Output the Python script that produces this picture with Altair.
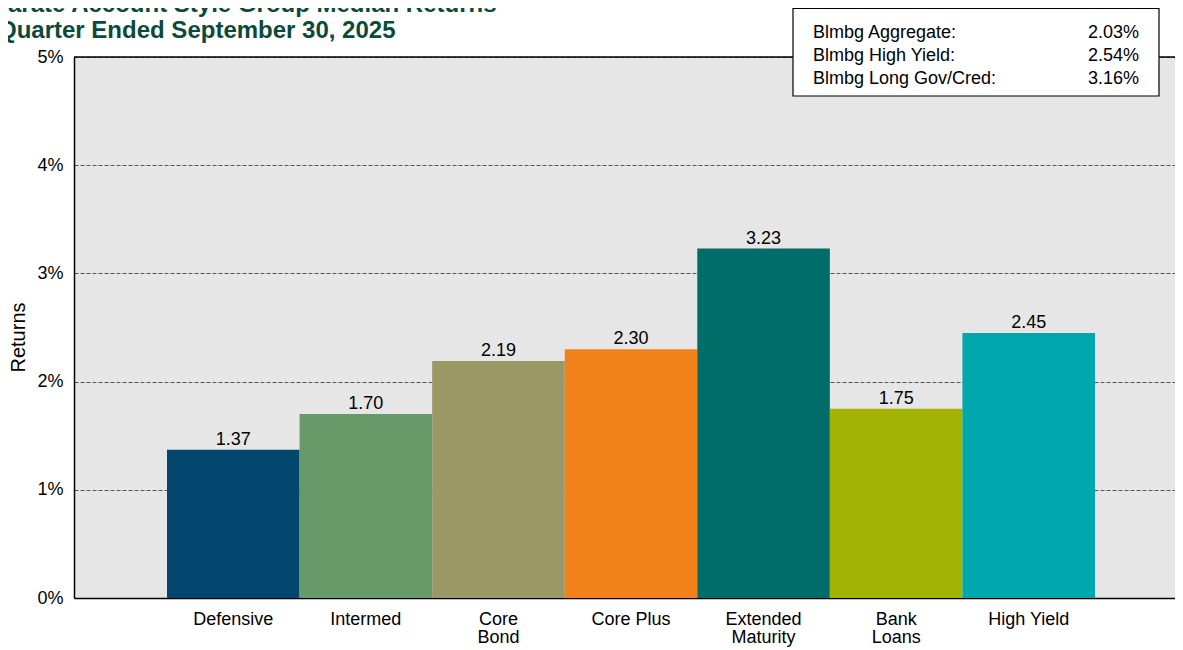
import altair as alt
import pandas as pd

categories = ["Defensive", "Intermed", "Core|Bond", "Core Plus", "Extended|Maturity", "Bank|Loans", "High Yield"]
values = [1.37, 1.70, 2.19, 2.30, 3.23, 1.75, 2.45]
colors = ["#03476f", "#679a68", "#9a9864", "#f08219", "#006d68", "#a2b303", "#00a8ad"]

bench_names = ["Blmbg Aggregate:", "Blmbg High Yield:", "Blmbg Long Gov/Cred:"]
bench_values = ["2.03%", "2.54%", "3.16%"]

title_lines = ["Separate Account Style Group Median Returns", "Quarter Ended September 30, 2025"]
y_ticks = [0, 1, 2, 3, 4, 5]

FONT = "Liberation Sans"
FS = 18
df = pd.DataFrame({"cat": categories, "val": values})
one = pd.DataFrame({"k": [0]})

x_enc = alt.X(
    "cat:N",
    sort=categories,
    scale=alt.Scale(paddingInner=0, paddingOuter=0.6525, align=0.5376),
    axis=alt.Axis(
        title=None, labelAngle=0, ticks=False, domainColor="black", domainWidth=1.5,
        labelFontSize=FS, labelColor="black", labelPadding=12, labelLineHeight=18.5,
        labelExpr="split(datum.label, '|')", labelBaseline="top",
    ),
)
y_enc = alt.Y(
    "val:Q",
    scale=alt.Scale(domain=[0, 5], nice=False),
    axis=alt.Axis(
        values=y_ticks, labelExpr="datum.value + '%'", title="Returns",
        grid=True, gridDash=[4, 2], gridColor="#555555", gridWidth=1,
        ticks=False, domainColor="black", domainWidth=1.5,
        labelFontSize=FS, labelColor="black", labelPadding=11,
        titleFontSize=20, titleFontWeight="normal", titleColor="black",
        titleX=-56, titleY=280, titleAngle=270, titleAlign="center", titleBaseline="middle",
    ),
)

bars = alt.Chart(df).mark_bar().encode(
    x=x_enc,
    y=y_enc,
    color=alt.Color("cat:N", scale=alt.Scale(domain=categories, range=colors), legend=None),
)
bar_labels = alt.Chart(df).mark_text(
    fontSize=FS, color="black", baseline="alphabetic", dy=-5, font=FONT
).encode(
    x=alt.X("cat:N", sort=categories),
    y="val:Q",
    text=alt.Text("val:Q", format=".2f"),
)
top_rule = alt.Chart(one).mark_rule(color="black", strokeWidth=1.5).encode(y=alt.datum(5))

box = alt.Chart(one).mark_rect(fill="white", stroke="black", strokeWidth=1.2).encode(
    x=alt.value(719), x2=alt.value(1085), y=alt.value(-48.5), y2=alt.value(39)
)

layers = [bars, bar_labels, top_rule, box]
for i, (n, v) in enumerate(zip(bench_names, bench_values)):
    yy = -19.5 + 23.3 * i
    layers.append(alt.Chart(one).mark_text(align="left", baseline="alphabetic", fontSize=FS, color="black", font=FONT)
                  .encode(x=alt.value(739), y=alt.value(yy), text=alt.value(n)))
    layers.append(alt.Chart(one).mark_text(align="right", baseline="alphabetic", fontSize=FS, color="black", font=FONT)
                  .encode(x=alt.value(1065), y=alt.value(yy), text=alt.value(v)))

title_x = [-110, -76]
title_y = [-45, -18.7]
for t, tx, ty in zip(title_lines, title_x, title_y):
    layers.append(alt.Chart(one).mark_text(align="left", baseline="alphabetic", fontSize=24, fontWeight="bold",
                                           color="#0b4a3a", font=FONT)
                  .encode(x=alt.value(tx), y=alt.value(ty), text=alt.value(t)))

chart = alt.layer(*layers).properties(
    width=1101, height=541,
    autosize=alt.AutoSizeParams(type="none"),
    padding={"left": 66, "top": 49, "right": 0, "bottom": 50},
).configure(font=FONT).configure_view(fill="#e6e6e6", strokeWidth=0)

chart.save("out.html", embed_options={"renderer": "svg", "actions": False})
